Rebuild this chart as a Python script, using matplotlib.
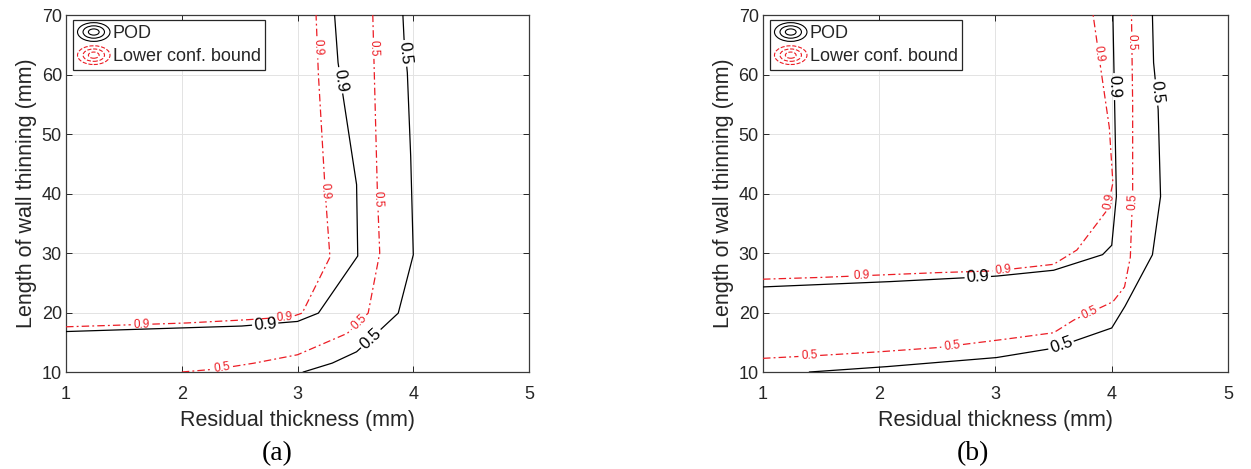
import numpy as np
import matplotlib
matplotlib.use("Agg")
import matplotlib.pyplot as plt
from matplotlib.lines import Line2D
from matplotlib.patches import Ellipse
from matplotlib.legend_handler import HandlerBase

plt.rcParams['font.family'] = ['Liberation Sans', 'DejaVu Sans']

# ---- data (residual thickness mm, length of wall thinning mm) ----
# panel (a)
a_pod09_x = [1.0, 1.5, 2.0, 2.5, 3.0, 3.18, 3.52, 3.51, 3.40, 3.35, 3.32]
a_pod09_y = [16.8, 17.1, 17.4, 17.7, 18.5, 19.9, 29.5, 41.5, 55.5, 62.0, 70.0]
a_pod05_x = [3.05, 3.3, 3.51, 3.76, 3.87, 4.0, 3.98, 3.95, 3.92, 3.91]
a_pod05_y = [10.0, 11.5, 13.4, 17.9, 19.9, 29.7, 45.0, 60.0, 66.0, 70.0]
a_low09_x = [1.0, 1.5, 2.0, 2.5, 2.95, 3.04, 3.28, 3.24, 3.21, 3.18, 3.16]
a_low09_y = [17.6, 17.9, 18.2, 18.7, 19.3, 19.9, 29.3, 40.0, 50.0, 60.0, 70.0]
a_low05_x = [2.0, 2.3, 2.6, 3.0, 3.43, 3.61, 3.71, 3.69, 3.67, 3.65]
a_low05_y = [10.0, 10.5, 11.4, 12.9, 16.5, 19.9, 30.0, 40.0, 55.0, 70.0]

# panel (b)
b_pod09_x = [1.0, 1.5, 2.0, 2.5, 3.0, 3.5, 3.92, 4.0, 4.04, 4.03, 4.02, 4.01]
b_pod09_y = [24.3, 24.7, 25.1, 25.6, 26.1, 27.1, 29.7, 31.3, 39.5, 50.0, 60.0, 70.0]
b_pod05_x = [1.4, 2.0, 2.5, 3.0, 3.5, 4.0, 4.11, 4.35, 4.42, 4.40, 4.36, 4.35]
b_pod05_y = [10.0, 10.8, 11.6, 12.4, 14.0, 17.4, 20.9, 29.7, 39.5, 54.0, 62.0, 70.0]
b_low09_x = [1.0, 1.5, 2.0, 2.5, 3.0, 3.5, 3.70, 3.96, 4.01, 3.98, 3.92, 3.84]
b_low09_y = [25.6, 25.9, 26.3, 26.7, 27.0, 28.1, 30.5, 37.2, 41.8, 51.0, 59.0, 70.0]
b_low05_x = [1.0, 1.5, 2.0, 2.5, 3.0, 3.5, 3.67, 4.01, 4.11, 4.16, 4.18, 4.18, 4.17]
b_low05_y = [12.3, 12.8, 13.4, 14.1, 15.3, 16.6, 18.7, 21.8, 24.3, 29.3, 40.0, 55.0, 70.0]

x_ticks = [1, 2, 3, 4, 5]
y_ticks = [10, 20, 30, 40, 50, 60, 70]
series_names = ['POD', 'Lower conf. bound']
panel_tags = ['(a)', '(b)']

# label anchors (approximate spots on each curve)
a_lab = {
    'pod09': [(3.36, 59.0), (2.72, 17.9)],
    'pod05': [(3.92, 63.5), (3.64, 15.4)],
    'low09': [(3.17, 64.5), (3.23, 40.5), (2.89, 19.3), (1.65, 18.0)],
    'low05': [(3.655, 64.5), (3.70, 39.0), (3.54, 18.2), (2.35, 10.8)],
}
b_lab = {
    'pod09': [(4.02, 58.0), (2.85, 25.8)],
    'pod05': [(4.38, 57.0), (3.57, 14.5)],
    'low09': [(3.87, 63.5), (4.0, 38.5), (3.07, 27.0), (1.85, 26.1)],
    'low05': [(4.17, 65.5), (4.18, 38.5), (3.82, 19.8), (2.63, 14.3), (1.4, 12.7)],
}

RED = '#ec1c24'
RED_LS = (0, (6, 2.5, 1.5, 2.5))

fig = plt.figure(figsize=(12.51, 4.69), dpi=100)
renderer = fig.canvas.get_renderer()


class ContourHandler(HandlerBase):
    def create_artists(self, legend, orig_handle, xdescent, ydescent,
                       width, height, fontsize, trans):
        cx = width / 2 - xdescent
        cy = height / 2 - ydescent
        arts = []
        for f in (1.0, 0.66, 0.33):
            e = Ellipse((cx, cy), width * f, height * 1.25 * f, fill=False,
                        edgecolor=orig_handle.get_color(),
                        linestyle=orig_handle.get_linestyle(), lw=0.8,
                        transform=trans)
            arts.append(e)
        return arts


def contour_line(ax, xs, ys, color, ls, lw, text, anchors, fsize):
    xs = np.asarray(xs, float)
    ys = np.asarray(ys, float)
    # dense points along the same polyline
    px, py = [xs[0]], [ys[0]]
    for i in range(len(xs) - 1):
        t = np.linspace(0, 1, 60)[1:]
        px.extend(xs[i] + (xs[i + 1] - xs[i]) * t)
        py.extend(ys[i] + (ys[i + 1] - ys[i]) * t)
    px, py = np.array(px), np.array(py)
    disp = ax.transData.transform(np.column_stack([px, py]))
    seg = np.hypot(np.diff(disp[:, 0]), np.diff(disp[:, 1]))
    s = np.concatenate([[0], np.cumsum(seg)])
    keep = np.ones(len(px), bool)
    for ax_x, ax_y in anchors:
        a = ax.transData.transform((ax_x, ax_y))
        k = np.argmin(np.hypot(disp[:, 0] - a[0], disp[:, 1] - a[1]))
        k0, k1 = max(k - 8, 0), min(k + 8, len(px) - 1)
        d = disp[k1] - disp[k0]
        ang = np.degrees(np.arctan2(d[1], d[0]))
        if ang >= 89.9:
            ang -= 180
        elif ang < -90:
            ang += 180
        t = ax.text(px[k], py[k], text, color=color, fontsize=fsize,
                    ha='center', va='center', rotation=0,
                    rotation_mode='anchor', zorder=4)
        w = t.get_window_extent(renderer).width
        t.set_rotation(ang)
        keep &= np.abs(s - s[k]) > w / 2 + 2
    # split into visible runs
    idx = np.where(keep)[0]
    if len(idx) == 0:
        return
    runs = np.split(idx, np.where(np.diff(idx) > 1)[0] + 1)
    for r in runs:
        if len(r) > 1:
            ax.plot(px[r], py[r], color=color, linestyle=ls, lw=lw,
                    solid_joinstyle='miter', zorder=3)


def panel(rect, d, labs, tag, tag_x):
    ax = fig.add_axes(rect)
    ax.set_xlim(1, 5)
    ax.set_ylim(10, 70)
    ax.set_xticks(x_ticks)
    ax.set_yticks(y_ticks)
    ax.tick_params(direction='in', length=4, width=0.7, colors='#262626',
                   labelsize=13, top=True, right=True, pad=3,
                   labelcolor='#262626')
    ax.tick_params(axis='x', pad=10)
    ax.grid(True, color='#e3e3e3', lw=0.7)
    ax.set_axisbelow(True)
    for sp in ax.spines.values():
        sp.set_color('#3a3a3a')
        sp.set_linewidth(0.9)
    ax.set_xlabel('Residual thickness (mm)', fontsize=15.5, color='#262626',
                  labelpad=5)
    ax.set_ylabel('Length of wall thinning (mm)', fontsize=15.5,
                  color='#262626', labelpad=3)

    contour_line(ax, d['pod09'][0], d['pod09'][1], 'black', '-', 0.9, '0.9',
                 labs['pod09'], 12)
    contour_line(ax, d['pod05'][0], d['pod05'][1], 'black', '-', 0.9, '0.5',
                 labs['pod05'], 12)
    contour_line(ax, d['low09'][0], d['low09'][1], RED, RED_LS, 0.9, '0.9',
                 labs['low09'], 8.5)
    contour_line(ax, d['low05'][0], d['low05'][1], RED, RED_LS, 0.9, '0.5',
                 labs['low05'], 8.5)

    handles = [Line2D([], [], color='black', linestyle='-'),
               Line2D([], [], color=RED, linestyle='--')]
    leg = ax.legend(handles, series_names, loc='upper left',
                    bbox_to_anchor=(0.015, 0.986), borderaxespad=0,
                    fontsize=13, fancybox=False, framealpha=1,
                    edgecolor='#262626', handlelength=1.8, handleheight=0.9,
                    handletextpad=0.15, labelspacing=0.3, borderpad=0.25,
                    handler_map={Line2D: ContourHandler()})
    leg.get_frame().set_linewidth(0.9)
    for t in leg.get_texts():
        t.set_color('#262626')

    fig.text(tag_x, 0.032, tag, fontsize=20, family='Liberation Serif',
             ha='center', va='center')
    return ax


da = {'pod09': (a_pod09_x, a_pod09_y), 'pod05': (a_pod05_x, a_pod05_y),
      'low09': (a_low09_x, a_low09_y), 'low05': (a_low05_x, a_low05_y)}
db = {'pod09': (b_pod09_x, b_pod09_y), 'pod05': (b_pod05_x, b_pod05_y),
      'low09': (b_low09_x, b_low09_y), 'low05': (b_low05_x, b_low05_y)}

panel([0.0528, 0.2068, 0.3701, 0.7612], da, a_lab, panel_tags[0], 0.2214)
panel([0.6099, 0.2068, 0.3717, 0.7612], db, b_lab, panel_tags[1], 0.7778)

fig.savefig('out.png', dpi=100)
